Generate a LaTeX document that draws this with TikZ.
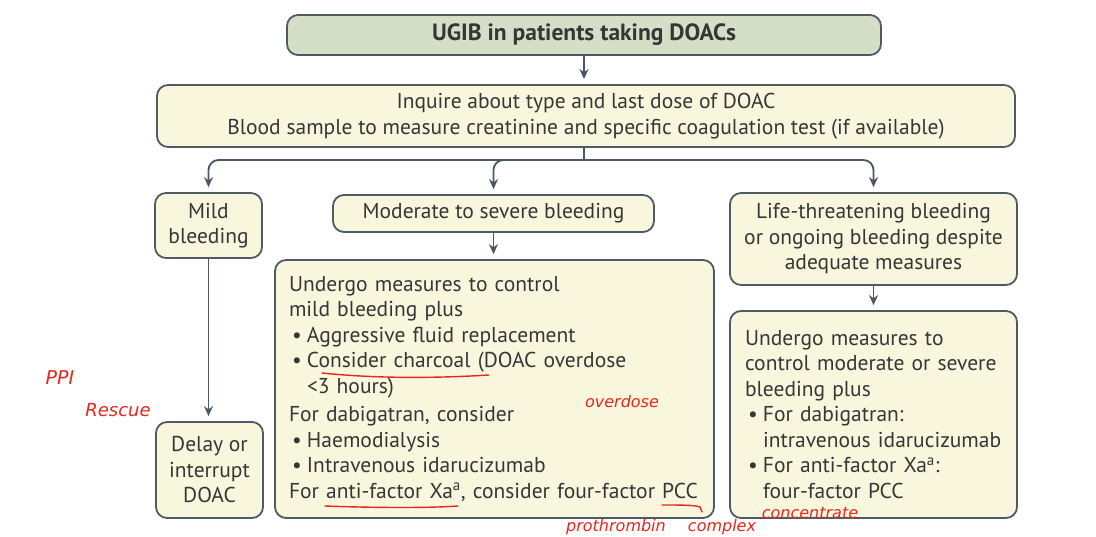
\documentclass[tikz,border=0pt]{standalone}
\usepackage{fontspec}
\setmainfont{PT Sans}
\newfontfamily\handfont{DejaVu Sans}
\usetikzlibrary{arrows.meta}
\definecolor{boxline}{HTML}{505A64}
\definecolor{boxfill}{HTML}{F8F7DD}
\definecolor{titlefill}{HTML}{D5DEC6}
\definecolor{txt}{HTML}{363636}
\definecolor{arr}{HTML}{4A5866}
\definecolor{pen}{HTML}{E8261C}
\tikzset{
  box/.style={draw=boxline, line width=1.8pt, fill=boxfill, rounded corners=11pt,
    inner sep=0pt, text=txt, font=\fontsize{21.5}{25.5}\selectfont, align=center},
  conn/.style={draw=arr, line width=1.8pt, -{Stealth[length=10pt,width=9pt]}, shorten >=5pt},
  penline/.style={draw=pen, line width=1.4pt, line cap=round},
  pentext/.style={text=pen, font=\handfont\itshape\fontsize{15}{16}\selectfont, inner sep=0pt}
}
\newcommand{\bul}{\makebox[18pt][l]{\hspace{3pt}\textbullet}}
\newcommand{\ind}{\hspace*{18pt}}
\begin{document}
\begin{tikzpicture}[x=1pt,y=-1pt]
\useasboundingbox (0,0) rectangle (1096,537);
\fill[white] (0,0) rectangle (1096,537);
% boxes
\node[box, fill=titlefill, minimum width=594pt, minimum height=40pt, font=\bfseries\fontsize{23.5}{26}\selectfont] (title) at (584,35) {UGIB in patients taking DOACs};
\node[box, minimum width=858pt, minimum height=62pt] (inq) at (586,116) {Inquire about type and last dose of DOAC\\Blood sample to measure creatinine and specific coagulation test (if available)};
\node[box, minimum width=107pt, minimum height=65pt] (mild) at (208.5,225.5) {Mild\\bleeding};
\node[box, minimum width=321pt, minimum height=37pt] (mod) at (493.5,213.5) {Moderate to severe bleeding};
\node[box, minimum width=287pt, minimum height=92pt] (life) at (873.5,239) {Life-threatening bleeding\\or ongoing bleeding despite\\adequate measures};
\node[box, minimum width=439pt, minimum height=258pt, text width=411pt, align=left] (big) at (494.5,389) {Undergo measures to control\\mild bleeding plus\\\bul Aggressive fluid replacement\\\bul Consider charcoal (DOAC overdose\\\ind{}<3 hours)\\[3pt]For dabigatran, consider\\\bul Haemodialysis\\\bul Intravenous idarucizumab\\For anti-factor Xa\textsuperscript{a}, consider four-factor PCC};
\node[box, minimum width=107pt, minimum height=96pt] (delay) at (209.5,470) {Delay or\\interrupt\\DOAC};
\node[box, minimum width=287pt, minimum height=207pt, text width=257pt, align=left] (right) at (873.5,414.5) {Undergo measures to\\control moderate or severe\\bleeding plus\\\bul For dabigatran:\\\ind{}intravenous idarucizumab\\\bul For anti-factor Xa\textsuperscript{a}:\\\ind{}four-factor PCC};
% connectors
\draw[conn] (title.south) -- (inq.north -| title.south);
\coordinate (split) at (584,160);
\draw[draw=arr, line width=1.8pt] (inq.south -| split) -- (split);
\draw[conn, rounded corners=10pt] (split) -| (mild.north);
\draw[conn, rounded corners=10pt] (split) -| (mod.north);
\draw[conn, rounded corners=10pt] (split) -| (life.north);
\draw[conn] (mod.south) -- (big.north -| mod.south);
\draw[conn] (mild.south) -- (delay.north -| mild.south);
\draw[conn] (life.south) -- (right.north);
% red pen annotations
\draw[penline] (322,373) .. controls (380,379) and (440,378) .. (489,375);
\draw[penline] (325,506) .. controls (380,508) and (430,508) .. (458,506);
\draw[penline] (662,505) .. controls (680,505) and (695,505) .. (700,507) -- (702,512);
\node[pentext, font=\handfont\itshape\fontsize{16}{17}\selectfont] (n1) at (622,402) {overdose};
\node[pentext, font=\handfont\itshape\fontsize{16}{17}\selectfont] (n2) at (616,527) {prothrombin};
\node[pentext, font=\handfont\itshape\fontsize{16}{17}\selectfont] (n3) at (722,527) {complex};
\node[pentext, font=\handfont\itshape\fontsize{16}{17}\selectfont] (n4) at (810,513) {concentrate};
\node[pentext, font=\handfont\itshape\fontsize{19}{20}\selectfont] (n5) at (60,378) {PPI};
\node[pentext, font=\handfont\itshape\fontsize{18}{19}\selectfont] (n6) at (118,410) {Rescue};
\end{tikzpicture}
\end{document}
